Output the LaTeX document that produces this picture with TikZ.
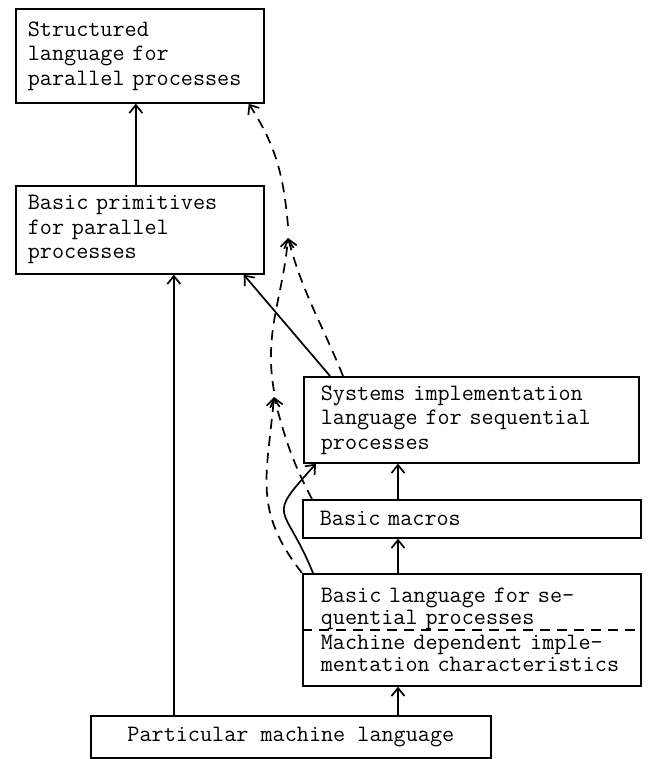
\documentclass[tikz,border=0pt]{standalone}
\usetikzlibrary{arrows.meta}
\begin{document}
\begin{tikzpicture}[x=1pt, y=-1pt, line width=1.7pt,
    >={Straight Barb[length=8pt,width=13pt]},
    box/.style={draw, anchor=north west, align=left, inner ysep=0pt,
        font=\fontsize{23.5}{24.5}\selectfont\ttfamily},
    txt/.style={align=left, inner ysep=0pt,
        font=\fontsize{23.5}{22}\selectfont\ttfamily},
    dashline/.style={dash pattern=on 10pt off 7pt}]
    \useasboundingbox (0,0) rectangle (647,759);

    % Boxes
    \node[box, text width=224pt, inner xsep=12pt, minimum height=94pt] (slp) at (15,8)
        {Structured\\language for\\parallel processes};
    \node[box, text width=224pt, inner xsep=12pt, minimum height=88pt] (bpp) at (15,185)
        {Basic primitives\\for parallel\\processes};
    \node[box, text width=301pt, inner xsep=17pt, minimum height=86pt] (sil) at (303,376)
        {Systems implementation\\language for sequential\\processes};
    \node[box, text width=304pt, inner xsep=17pt, minimum height=38pt] (bmac) at (302,499)
        {Basic macros};
    \node[box, minimum width=400pt, minimum height=42pt] (pml) at (90,715)
        {Particular machine language};

    % Basic language box with the machine dependent part below
    \node[draw, anchor=north west, minimum width=338pt, minimum height=112pt] (bls) at (302,573) {};
    \node[txt, anchor=west, text width=315pt, inner xsep=18pt] (seq) at ([yshift=-36pt]bls.north west)
        {Basic language for se-\\quential processes};
    \node[txt, anchor=west, text width=315pt, inner xsep=18pt] (mdep) at ([yshift=-80pt]bls.north west)
        {Machine dependent imple-\\mentation characteristics};
    \draw[dashline] ([yshift=-57pt]bls.north west) -- ([yshift=-57pt]bls.north east);

    % Solid arrows
    \draw[->] ([xshift=-4pt]bpp.north) -- ([xshift=-4pt]slp.south);
    \draw[->] ([xshift=-117pt]pml.north) -- ([xshift=34pt]bpp.south);
    \draw[->] ([xshift=27pt]sil.north west) -- ([xshift=-21pt]bpp.south east);
    \draw[->] ([xshift=96pt]bmac.north west) -- ([xshift=95pt]sil.south west);
    \draw[->] ([xshift=96pt]bls.north west) -- ([xshift=96pt]bmac.south west);
    \draw[->] ([xshift=-93.7pt]pml.north east) -- ([xshift=96pt]bls.south west);
    \draw[->] ([xshift=11pt]bls.north west) to[out=112, in=228, looseness=1.8] ([xshift=13pt]sil.south west);

    % Dashed arrows
    \coordinate (j1) at (288,238);
    \coordinate (j2) at (274,397);
    \draw[->, dashline] (bls.north west) to[out=128, in=-95, looseness=1.15] (j2);
    \draw[->, dashline] ([xshift=10pt]bmac.north west) to[out=118, in=-75] (j2);
    \draw[->, dashline] ([yshift=6pt]j2) to[out=100, in=-95] (j1);
    \draw[->, dashline] ([xshift=40pt]sil.north west) to[out=112, in=-75] (j1);
    \draw[->, dashline] ([yshift=12pt]j1) to[out=95, in=-57] ([xshift=-16pt]slp.south east);
\end{tikzpicture}
\end{document}
